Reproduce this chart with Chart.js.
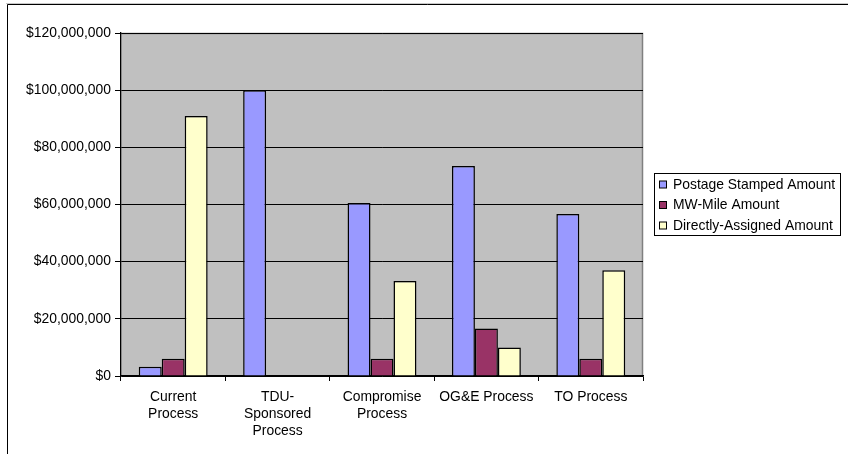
<!DOCTYPE html>
<html>
<head>
<meta charset="utf-8">
<script src="https://cdn.jsdelivr.net/npm/chart.js@4/dist/chart.umd.min.js"></script>
<style>
  html, body { margin: 0; padding: 0; background: #ffffff; }
  #wrap { width: 848px; height: 454px; position: relative; }
</style>
</head>
<body>
<div id="wrap"><canvas id="c" width="848" height="454"></canvas></div>
<script>
// Transmission cost allocation by process
const categories = [
  ["Current", "Process"],
  ["TDU-", "Sponsored", "Process"],
  ["Compromise", "Process"],
  "OG&E Process",
  "TO Process"
];
const seriesNames = ["Postage Stamped Amount", "MW-Mile Amount", "Directly-Assigned Amount"];
const postageStamped = [3200000, 100000000, 60500000, 73500000, 56700000];
const mwMile = [6000000, 0, 6000000, 16600000, 6000000];
const directlyAssigned = [91000000, 0, 33200000, 10000000, 37000000];
const yTicks = [0, 20000000, 40000000, 60000000, 80000000, 100000000, 120000000];

const seriesColors = ["#9999FF", "#993366", "#FFFFCC"];
const FONT = "'Liberation Sans', Arial, sans-serif";
const FONT_SIZE = 13.9;

function money(v) {
  return "$" + Math.round(v).toString().replace(/\B(?=(\d{3})+(?!\d))/g, ",");
}

// Outer frame, grey plot background and the boxed legend
const decorations = {
  id: "decorations",
  beforeDraw(chart) {
    const ctx = chart.ctx;
    const a = chart.chartArea;
    ctx.save();
    ctx.fillStyle = "#ffffff";
    ctx.fillRect(0, 0, chart.width, chart.height);
    // frame
    ctx.strokeStyle = "#c8c8c8";
    ctx.lineWidth = 1;
    ctx.beginPath();
    ctx.moveTo(6, 3.5); ctx.lineTo(chart.width, 3.5);
    ctx.stroke();
    ctx.strokeStyle = "#000000";
    ctx.beginPath();
    ctx.moveTo(7.5, chart.height); ctx.lineTo(7.5, 4.5); ctx.lineTo(chart.width, 4.5);
    ctx.stroke();
    // plot area
    ctx.fillStyle = "#C0C0C0";
    ctx.fillRect(a.left, a.top, a.right - a.left, a.bottom - a.top);
    ctx.strokeStyle = "#808080";
    ctx.lineWidth = 1.5;
    ctx.beginPath();
    ctx.moveTo(a.left, a.top + 0.5);
    ctx.lineTo(a.right - 0.5, a.top + 0.5);
    ctx.lineTo(a.right - 0.5, a.bottom);
    ctx.stroke();
    ctx.restore();
  },
  afterDraw(chart) {
    const ctx = chart.ctx;
    const boxL = 654.5, boxT = 173.5, boxW = 186, boxH = 62;
    ctx.save();
    ctx.fillStyle = "#ffffff";
    ctx.fillRect(boxL, boxT, boxW, boxH);
    ctx.strokeStyle = "#000000";
    ctx.lineWidth = 1;
    ctx.strokeRect(boxL, boxT, boxW, boxH);
    ctx.font = FONT_SIZE + "px " + FONT;
    ctx.textBaseline = "middle";
    ctx.textAlign = "left";
    chart.data.datasets.forEach((ds, i) => {
      const cy = 184.5 + i * 20.5;
      ctx.fillStyle = ds.backgroundColor;
      ctx.fillRect(659.5, cy - 3.5, 7, 7);
      ctx.strokeStyle = "#000000";
      ctx.strokeRect(659.5, cy - 3.5, 7, 7);
      ctx.fillStyle = "#000000";
      ctx.fillText(ds.label, 673, cy + 0.5);
    });
    ctx.restore();
  }
};

new Chart(document.getElementById("c"), {
  type: "bar",
  data: {
    labels: categories,
    datasets: [
      { label: seriesNames[0], data: postageStamped, backgroundColor: seriesColors[0] },
      { label: seriesNames[1], data: mwMile, backgroundColor: seriesColors[1] },
      { label: seriesNames[2], data: directlyAssigned, backgroundColor: seriesColors[2] }
    ].map(d => Object.assign(d, {
      borderColor: "#000000",
      borderWidth: 1.5,
      barPercentage: 1,
      categoryPercentage: 0.66
    }))
  },
  options: {
    responsive: false,
    animation: false,
    devicePixelRatio: 1,
    layout: { padding: { top: 33, right: 205, bottom: 0, left: 0 } },
    plugins: {
      legend: { display: false },
      tooltip: { enabled: false }
    },
    scales: {
      x: {
        grid: {
          offset: true,
          drawOnChartArea: false,
          drawTicks: true,
          tickLength: 5,
          color: "#000000"
        },
        border: { color: "#000000", width: 1.3 },
        ticks: {
          color: "#000000",
          font: { family: FONT, size: FONT_SIZE, lineHeight: 1.25 },
          padding: 7,
          maxRotation: 0,
          autoSkip: false
        },
        afterFit(scale) { scale.height = 78; }
      },
      y: {
        min: 0,
        max: 120000000,
        afterBuildTicks(scale) { scale.ticks = yTicks.map(v => ({ value: v })); },
        grid: {
          color: "#000000",
          lineWidth: 1,
          tickLength: 6,
          drawTicks: true
        },
        border: { color: "#000000", width: 1.3 },
        ticks: {
          color: "#000000",
          font: { family: FONT, size: FONT_SIZE },
          padding: 4,
          callback: v => money(v)
        },
        afterFit(scale) { scale.width = 121; }
      }
    }
  },
  plugins: [decorations]
});
</script>
</body>
</html>
